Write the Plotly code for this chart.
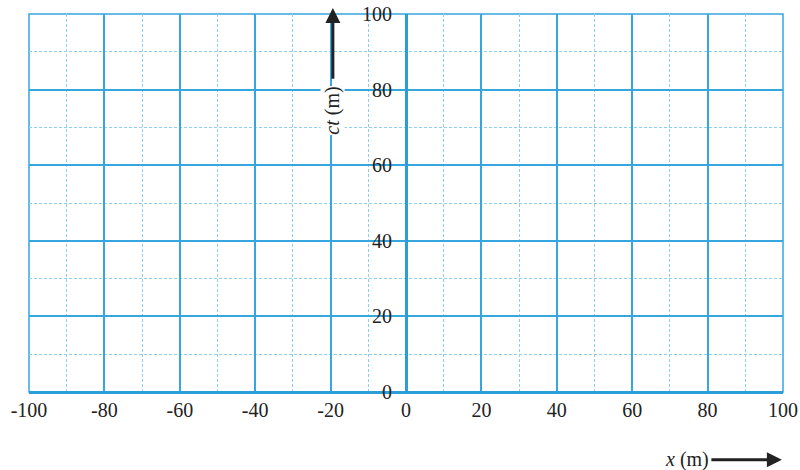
import plotly.graph_objects as go

x_range = [-100, 100]
y_range = [0, 100]
x_ticks = [-100, -80, -60, -40, -20, 0, 20, 40, 60, 80, 100]
y_ticks = [0, 20, 40, 60, 80, 100]
x_label = "<i>x</i> (m)"
y_label = "<i>ct</i> (m)"

major = "#35a6de"
minor = "#8fd0f0"
axis_col = "#2a9ed8"
txt = "#222222"
font = "Liberation Serif"

fig = go.Figure()
fig.add_trace(go.Scatter(x=x_range, y=y_range, mode="markers", marker=dict(opacity=0), hoverinfo="skip", showlegend=False))

fig.update_layout(
    width=800, height=470,
    margin=dict(l=29, r=17, t=14, b=78, autoexpand=False),
    paper_bgcolor="white", plot_bgcolor="white",
    font=dict(family=font, size=20, color=txt),
    showlegend=False,
    xaxis=dict(
        range=x_range, tickvals=x_ticks, ticktext=[str(v) for v in x_ticks],
        showgrid=True, gridcolor=major, gridwidth=1.5,
        minor=dict(dtick=10, tick0=0, showgrid=True, gridcolor=minor, griddash="3px,2px", gridwidth=1),
        zeroline=True, zerolinecolor=axis_col, zerolinewidth=3,
        showline=False, ticks="", ticklabelstandoff=4,
        automargin=False, fixedrange=True,
    ),
    yaxis=dict(
        range=y_range, tickvals=y_ticks, ticktext=[str(v) for v in y_ticks],
        anchor="free", position=0.5,
        showgrid=True, gridcolor=major, gridwidth=1.5,
        minor=dict(dtick=10, tick0=0, showgrid=True, gridcolor=minor, griddash="3px,2px", gridwidth=1),
        zeroline=True, zerolinecolor=axis_col, zerolinewidth=3,
        showline=False, ticks="", ticklabelstandoff=14,
        automargin=False, fixedrange=True,
    ),
    shapes=[dict(type="rect", xref="paper", yref="paper", x0=0, y0=0, x1=1, y1=1,
                 line=dict(color=major, width=1.5), layer="below")],
)

# ct axis arrow and label
fig.add_annotation(x=-19.4, y=101.6, ax=-19.4, ay=82.5, xref="x", yref="y", axref="x", ayref="y",
                   text="", showarrow=True, arrowhead=2, arrowsize=1, arrowwidth=3, arrowcolor=txt)
fig.add_annotation(x=-19.4, y=74.4, xref="x", yref="y", text=y_label, textangle=-90,
                   showarrow=False, font=dict(family=font, size=20, color=txt), bgcolor="white",
                   borderpad=0)

# x axis arrow and label
fig.add_annotation(x=99.7, y=-0.179, ax=80.6, ay=0, xref="x", yref="paper", axref="x", ayref="pixel",
                   text="", showarrow=True, arrowhead=2, arrowsize=1, arrowwidth=3, arrowcolor=txt)
fig.add_annotation(x=80.6, y=-0.179, xref="x", yref="paper", text=x_label, xanchor="right", yanchor="middle",
                   showarrow=False, font=dict(family=font, size=20, color=txt), borderpad=0)

fig.write_html("out.html")
